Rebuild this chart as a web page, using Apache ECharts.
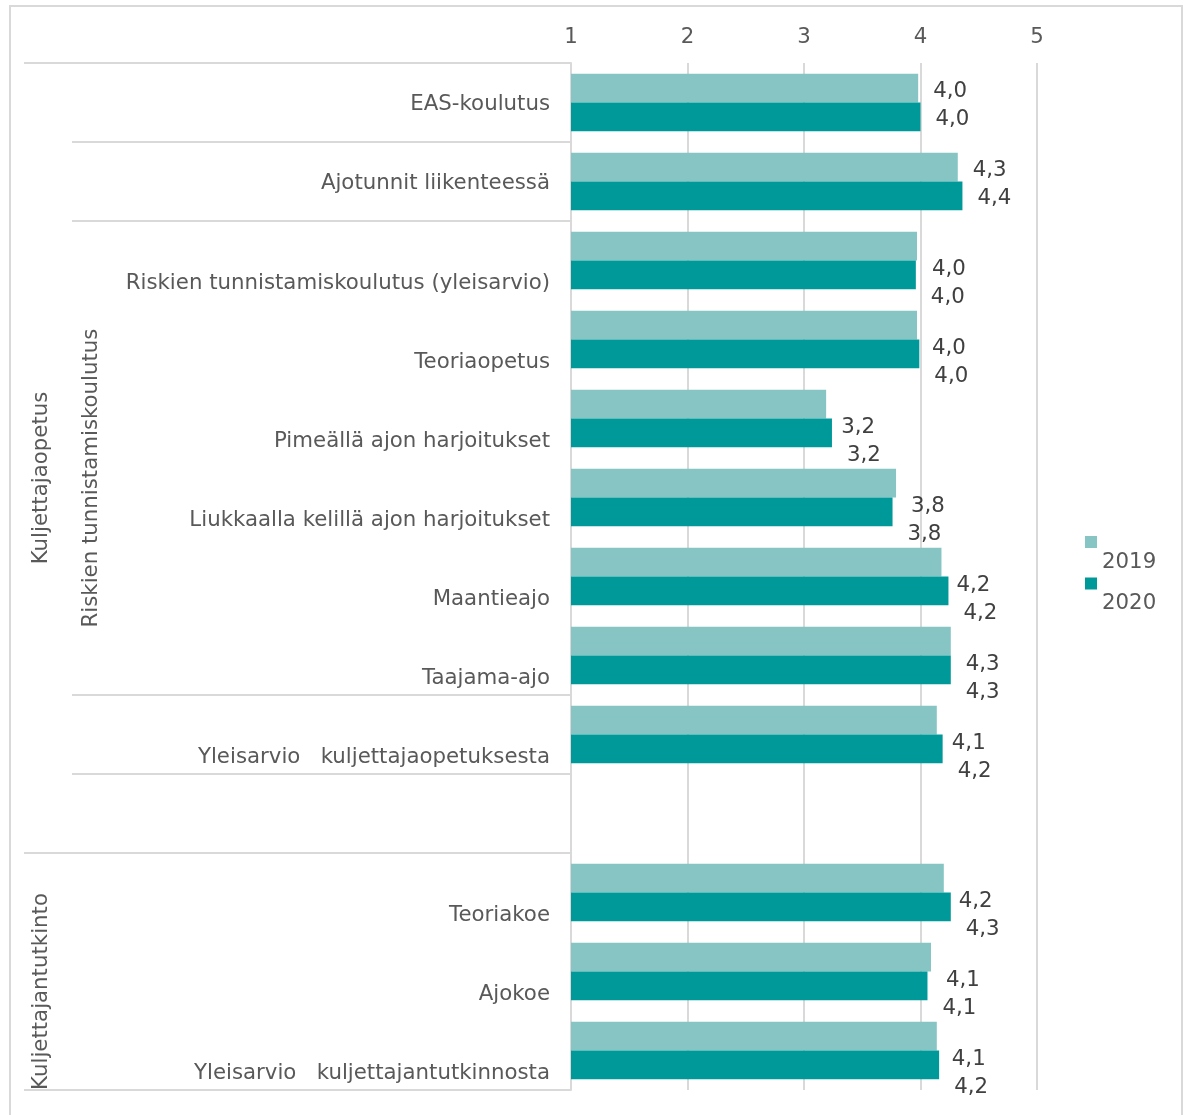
<!DOCTYPE html>
<html>
<head>
<meta charset="utf-8">
<script src="https://cdn.jsdelivr.net/npm/echarts@6/dist/echarts.min.js"></script>
<style>
    html, body { margin: 0; padding: 0; background: #fff; }
    #main { width: 1187px; height: 1115px; }
</style>
</head>
<body>
<div id="main"></div>
<script>
// leaf categories, top to bottom (the empty one is the spacer row)
const categories = [
    'EAS-koulutus',
    'Ajotunnit liikenteessä',
    'Riskien tunnistamiskoulutus (yleisarvio)',
    'Teoriaopetus',
    'Pimeällä ajon harjoitukset',
    'Liukkaalla kelillä ajon harjoitukset',
    'Maantieajo',
    'Taajama-ajo',
    'Yleisarvio   kuljettajaopetuksesta',
    '',
    'Teoriakoe',
    'Ajokoe',
    'Yleisarvio   kuljettajantutkinnosta',
];
const values2019 = [3.98, 4.32, 3.97, 3.97, 3.19, 3.79, 4.18, 4.26, 4.14, null, 4.20, 4.09, 4.14];
const values2020 = [4.00, 4.36, 3.96, 3.99, 3.24, 3.76, 4.24, 4.26, 4.19, null, 4.26, 4.06, 4.16];
const xTicks = [1, 2, 3, 4, 5];

// category groups: [label, first row, last row]
const outerGroups = [
    ['Kuljettajaopetus', 0, 9],
    ['Kuljettajantutkinto', 10, 12],
];
const innerGroups = [['Riskien tunnistamiskoulutus', 2, 7]];
// rows that get a short separator on their top edge
const innerBreaks = [1, 2, 8, 9];

const FONT = 'DejaVu Sans';
const FS = 21.3;
const TEXT = '#595959';
const GRID = '#d9d9d9';
const gridLeft = 571;

const barItems = values => values.map((v, i) => ({
    value: v,
    label: { offset: [0, i < 2 ? 3 : 23] },
}));

const fmt = v => v.value == null ? '' : v.value.toFixed(1).replace('.', ',');

const barSeries = (name, values, color) => ({
    name,
    type: 'bar',
    data: barItems(values),
    barGap: '0%',
    barCategoryGap: '27%',
    itemStyle: { color },
    label: {
        show: true,
        position: 'right',
        distance: 15,
        formatter: fmt,
        fontFamily: FONT,
        fontSize: FS,
        color: '#404040',
    },
});

const option = {
    animation: false,
    textStyle: { fontFamily: FONT },
    grid: { left: gridLeft, right: 150, top: 63, bottom: 25 },
    legend: {
        orient: 'vertical',
        left: 1085,
        top: 536,
        padding: 0,
        icon: 'rect',
        itemWidth: 12,
        itemHeight: 12,
        itemGap: 5,
        formatter: '{t|{name}}',
        textStyle: {
            fontFamily: FONT,
            fontSize: FS,
            color: TEXT,
            rich: { t: { fontFamily: FONT, fontSize: FS, color: TEXT, padding: [40, 0, 0, 0] } },
        },
        data: ['2019', '2020'],
    },
    xAxis: {
        type: 'value',
        position: 'top',
        min: xTicks[0],
        max: xTicks[xTicks.length - 1],
        interval: 1,
        axisLine: { show: false },
        axisTick: { show: false },
        axisLabel: { fontFamily: FONT, fontSize: FS, color: TEXT, margin: 15 },
        splitLine: { lineStyle: { color: GRID, width: 2 } },
    },
    yAxis: {
        type: 'category',
        inverse: true,
        data: categories,
        axisTick: { show: false },
        axisLine: { lineStyle: { color: GRID, width: 2 } },
        axisLabel: {
            margin: 21,
            formatter: (v, i) => (i < 2 ? '{a|' : '{b|') + v + '}',
            rich: {
                a: { fontFamily: FONT, fontSize: FS, color: TEXT, padding: [4, 0, 0, 0] },
                b: { fontFamily: FONT, fontSize: FS, color: TEXT, padding: [45, 0, 0, 0] },
            },
        },
    },
    series: [
        barSeries('2019', values2019, '#86c5c4'),
        barSeries('2020', values2020, '#009999'),
    ],
};

const chart = echarts.init(document.getElementById('main'));
chart.setOption(option);

// multi-level category labels and separators, placed from the axis scale
const yAt = i => chart.convertToPixel({ yAxisIndex: 0 }, i);
const band = yAt(1) - yAt(0);
const rowTop = i => yAt(i) - band / 2;
const rowBottom = i => yAt(i) + band / 2;

const hLine = (x1, y) => ({
    type: 'line',
    shape: { x1, y1: y, x2: gridLeft, y2: y },
    style: { stroke: GRID, lineWidth: 2 },
});
const groupText = (label, x, from, to) => ({
    type: 'text',
    x,
    y: (rowTop(from) + rowBottom(to)) / 2 + 20,
    rotation: Math.PI / 2,
    style: {
        text: label,
        fontFamily: FONT,
        fontSize: FS,
        fill: TEXT,
        align: 'center',
        verticalAlign: 'middle',
    },
});

const graphics = [
    {
        type: 'rect',
        shape: { x: 10, y: 6, width: 1172, height: 1130 },
        style: { fill: null, stroke: GRID, lineWidth: 2 },
        z: -1,
    },
    hLine(24, rowTop(0)),
    hLine(24, rowTop(10)),
    hLine(24, rowBottom(12)),
];
innerBreaks.forEach(i => graphics.push(hLine(72, rowTop(i))));
outerGroups.forEach(g => graphics.push(groupText(g[0], 41, g[1], g[2])));
innerGroups.forEach(g => graphics.push(groupText(g[0], 91, g[1], g[2])));

chart.setOption({ graphic: graphics });
</script>
</body>
</html>
